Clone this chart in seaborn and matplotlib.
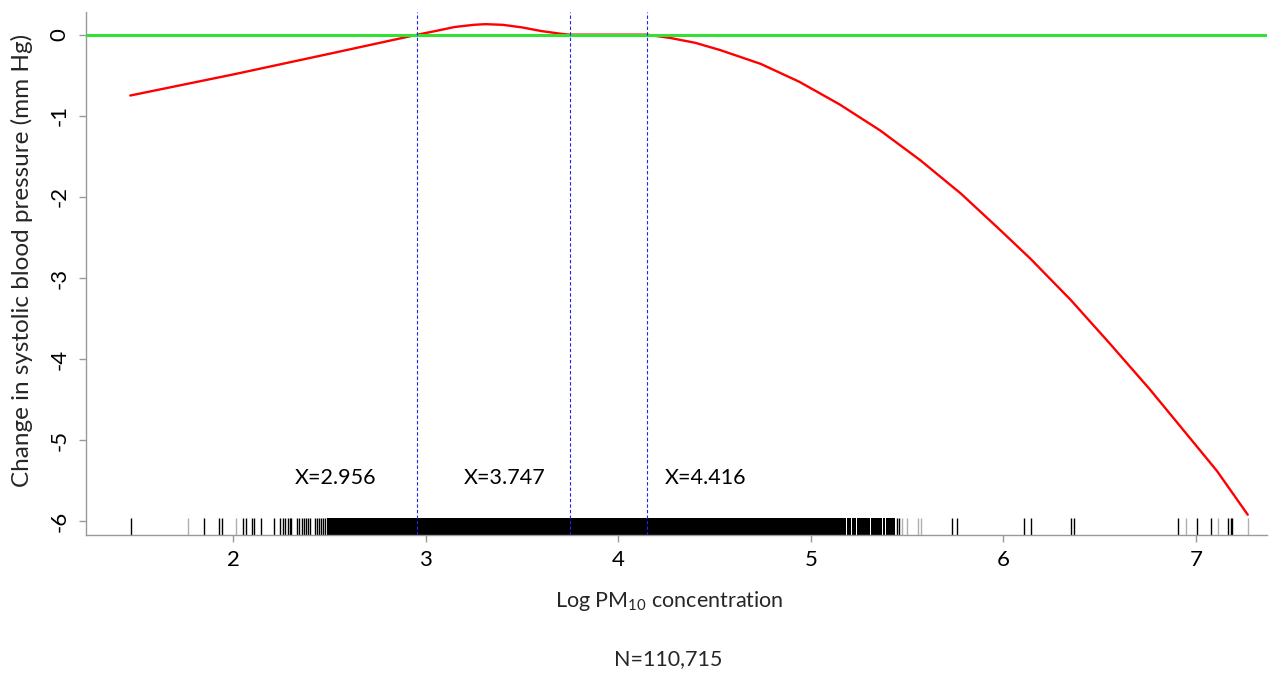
import matplotlib
matplotlib.use("Agg")
import matplotlib.pyplot as plt
import seaborn as sns
import numpy as np

# ---- data ----
curve_x = [1.465, 2.0, 2.5, 2.956, 3.05, 3.15, 3.25, 3.31, 3.40, 3.50, 3.60, 3.70, 3.747,
           3.85, 4.0, 4.15, 4.27, 4.40, 4.53, 4.74, 4.94, 5.15, 5.36, 5.57, 5.78, 5.98,
           6.14, 6.35, 6.55, 6.76, 6.93, 7.11, 7.27]
curve_y = [-0.75, -0.49, -0.235, 0.0, 0.045, 0.095, 0.122, 0.13, 0.122, 0.09, 0.045, 0.012, 0.0,
           0.0, 0.0, 0.0, -0.04, -0.10, -0.19, -0.36, -0.58, -0.86, -1.18, -1.55, -1.96, -2.40,
           -2.76, -3.27, -3.80, -4.37, -4.86, -5.38, -5.92]

knots = [2.956, 3.747, 4.148]
knot_labels = ["X=2.956", "X=3.747", "X=4.416"]
label_x = [2.53, 3.41, 4.455]
label_y = -5.47

rug_dark = [1.467, 1.846, 1.926, 1.943, 2.049, 2.066, 2.097, 2.109, 2.142, 2.210,
            2.245, 2.256, 2.269, 2.282, 2.293, 2.302, 2.333, 2.344, 2.357, 2.367,
            2.378, 2.388, 2.398, 2.424, 2.435, 2.445, 2.455, 2.466, 2.476,
            5.449, 5.460, 5.732, 5.758, 6.109, 6.144, 6.350, 6.367,
            6.909, 7.008, 7.077, 7.169, 7.181, 7.190]
rug_light = [1.766, 2.014, 5.472, 5.498, 5.559, 5.573, 6.949, 7.117, 7.270]
rug_bands = [(2.486, 5.183), (5.190, 5.207), (5.214, 5.235), (5.242, 5.307),
             (5.312, 5.368), (5.375, 5.385), (5.392, 5.437)]

x_ticks = [2, 3, 4, 5, 6, 7]
y_ticks = [0, -1, -2, -3, -4, -5, -6]

# ---- style ----
sns.set_theme(style="ticks")
plt.rcParams['font.family'] = ['Lato', 'DejaVu Sans']
plt.rcParams['mathtext.fontset'] = 'custom'
plt.rcParams['mathtext.rm'] = 'Lato'
plt.rcParams['mathtext.it'] = 'Lato:italic'

W, H = 1274, 673
fig = plt.figure(figsize=(W / 100, H / 100), dpi=100)
ax = fig.add_axes([86 / W, 1 - 535 / H, (1267 - 86) / W, (535 - 12) / H])

ax.set_xlim(1.235, 7.37)
ax.set_ylim(-6.17, 0.28)

# rug
xtr = ax.get_xaxis_transform()
rug_h = 17 / 523
for a, b in rug_bands:
    ax.fill_between([a, b], [0, 0], [rug_h, rug_h], transform=xtr, color='black', lw=0, zorder=1)
sns.rugplot(x=rug_dark, height=rug_h, color='black', lw=0.9, ax=ax, zorder=1)
sns.rugplot(x=rug_light, height=rug_h, color='#b0b0b0', lw=0.9, ax=ax, zorder=1)

# curve
sns.lineplot(x=curve_x, y=curve_y, color='#ff0000', lw=1.7, sort=False,
             estimator=None, ax=ax, zorder=3)

# zero line
ax.axhline(0, color='#33e033', lw=2.2, zorder=4)

# knot lines
for k in knots:
    ax.axvline(k, color='#2222ee', lw=0.8, ls=(0, (3, 2)), zorder=5)

for lx, t in zip(label_x, knot_labels):
    ax.text(lx, label_y, t, ha='center', va='center', fontsize=15.5, color='black')

# axes styling
for s in ['top', 'right']:
    ax.spines[s].set_visible(False)
for s in ['left', 'bottom']:
    ax.spines[s].set_color('#999999')
    ax.spines[s].set_linewidth(1.0)
ax.set_xticks(x_ticks)
ax.set_yticks(y_ticks)
ax.set_yticklabels([str(v) for v in y_ticks], rotation=90, va='center')
ax.tick_params(axis='both', colors='#999999', labelcolor='black', length=5, width=1.0,
               labelsize=16, direction='out')
ax.tick_params(axis='x', pad=6)
ax.tick_params(axis='y', pad=7)
ax.set_xlabel('')
ax.set_ylabel('')

fig.text(22 / W, 1 - 260 / H, 'Change in systolic blood pressure (mm Hg)', rotation=90,
         ha='center', va='center', fontsize=17.5)
fig.text(669 / W, 1 - 601 / H, 'Log PM$_{10}$ concentration', ha='center', va='center',
         fontsize=15.5)
fig.text(668 / W, 1 - 659 / H, 'N=110,715', ha='center', va='center', fontsize=15.5)

fig.savefig('out.png', dpi=100)
